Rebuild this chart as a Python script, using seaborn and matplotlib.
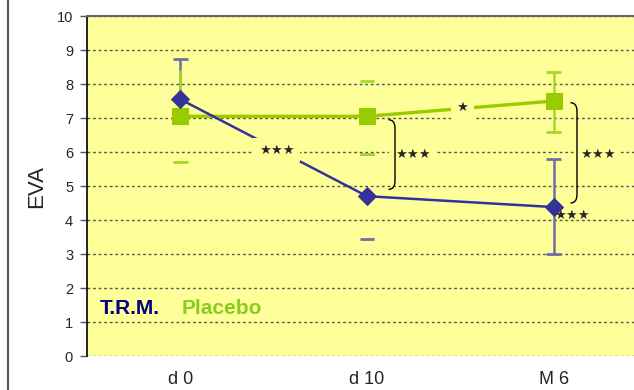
import numpy as np
import pandas as pd
import seaborn as sns

import matplotlib

matplotlib.use("Agg")
import matplotlib.pyplot as plt
from matplotlib.lines import Line2D
from matplotlib.path import Path
from matplotlib.patches import PathPatch

# data
visits = ["d 0", "d 10", "M 6"]
trm_mean = [7.55, 4.70, 4.38]
trm_low = [7.55, 3.45, 3.00]
trm_high = [8.75, 5.95, 5.80]
placebo_mean = [7.05, 7.05, 7.50]
placebo_low = [5.70, 5.95, 6.60]
placebo_high = [8.40, 8.08, 8.35]
# which parts of each error bar are visible in the original
trm_stem = ["up", "", "both"]
placebo_stem = ["up", "", "both"]
placebo_caps = ["low", "both", "both"]
trm_caps = ["high", "both", "both"]

TRM_COLOR = "#333399"
PLACEBO_COLOR = "#99cc00"
BG = "#ffff99"

sns.set_style("white")
plt.rcParams["font.family"] = ["Liberation Sans", "DejaVu Sans"]

df = pd.DataFrame(
    {
        "visit": visits * 2,
        "eva": trm_mean + placebo_mean,
        "group": ["T.R.M."] * 3 + ["Placebo"] * 3,
    }
)

fig = plt.figure(figsize=(6.34, 3.90), dpi=100)
fig.patch.set_facecolor("white")
ax = fig.add_axes([87 / 634, 34 / 390, 560 / 634, 340 / 390])
ax.set_facecolor(BG)

# error bars drawn by hand so partial bars can be reproduced
x = np.arange(len(visits))
for mean, lo, hi, stem, caps, col in [
    (trm_mean, trm_low, trm_high, trm_stem, trm_caps, "#6f6fa8"),
    (placebo_mean, placebo_low, placebo_high, placebo_stem, placebo_caps, "#a6d82a"),
]:
    for xi, m, l, h, s, c in zip(x, mean, lo, hi, stem, caps):
        if s == "up":
            ax.vlines(xi, m, h, color=col, lw=1.8, zorder=3)
        elif s == "both":
            ax.vlines(xi, l, h, color=col, lw=1.8, zorder=3)
        ends = {"low": [l], "high": [h], "both": [l, h]}[c]
        ax.hlines(ends, xi - 0.04, xi + 0.04, color=col, lw=2, zorder=3)

sns.lineplot(
    data=df[df.group == "Placebo"], x="visit", y="eva", color=PLACEBO_COLOR,
    marker="s", markersize=11, markeredgecolor=PLACEBO_COLOR, lw=2.4,
    ax=ax, zorder=4, legend=False,
)
sns.lineplot(
    data=df[df.group == "T.R.M."], x="visit", y="eva", color=TRM_COLOR,
    marker="D", markersize=9, markeredgecolor=TRM_COLOR, lw=1.8,
    ax=ax, zorder=5, legend=False,
)

ax.set_xlim(-0.5, 2.5)
ax.set_ylim(0, 10)
ax.set_yticks(range(0, 11))
ax.yaxis.grid(True, linestyle=(0, (2, 2)), color="#555555", lw=1.0, zorder=1)
ax.set_axisbelow(True)
ax.tick_params(axis="y", which="both", left=True, length=5, width=1,
               color="#555555", labelsize=10.5, pad=5)
ax.tick_params(axis="x", length=0, labelsize=13, pad=11)
for sp in ["right", "bottom"]:
    ax.spines[sp].set_visible(False)
ax.spines["left"].set_color("black")
ax.spines["left"].set_linewidth(1.2)
ax.spines["top"].set_color("#666666")
ax.spines["top"].set_linewidth(1.5)
ax.set_xlabel("")
ax.set_ylabel("EVA", fontsize=16)
ax.yaxis.set_label_coords(-0.072, 0.5)

# significance stars with yellow boxes that break lines
box = dict(facecolor=BG, edgecolor="none", pad=4)
star_font = dict(fontsize=9.5, family="DejaVu Sans", ha="center", va="center")
for tx, ty, s in [(0.515, 6.06, "★★★"), (1.51, 7.3, "★"), (1.245, 5.94, "★★★"),
                  (2.235, 5.94, "★★★")]:
    ax.text(tx, ty, s, bbox=box, zorder=6, **star_font)
ax.text(2.10, 4.12, "★★★", zorder=6, **star_font)


def bracket(xb, ytop, ybot):
    w = 0.035
    verts = [(xb - w, ytop), (xb, ytop), (xb, ytop - 0.25),
             (xb, ybot + 0.25), (xb, ybot), (xb - w, ybot)]
    codes = [Path.MOVETO, Path.CURVE3, Path.CURVE3,
             Path.LINETO, Path.CURVE3, Path.CURVE3]
    ax.add_patch(PathPatch(Path(verts, codes), fill=False, lw=1.0,
                           edgecolor="black", zorder=6))


bracket(1.15, 6.95, 4.9)
bracket(2.125, 7.45, 4.5)

ax.text(-0.43, 1.41, "T.R.M.", color="#000080", fontsize=15,
        fontweight="bold", va="center")
ax.text(0.005, 1.41, "Placebo", color="#88cc22", fontsize=15,
        fontweight="bold", va="center")

fig.add_artist(Line2D([8 / 634, 8 / 634], [0, 1], color="#555555", lw=1.5))

fig.savefig("out.png", dpi=100)
